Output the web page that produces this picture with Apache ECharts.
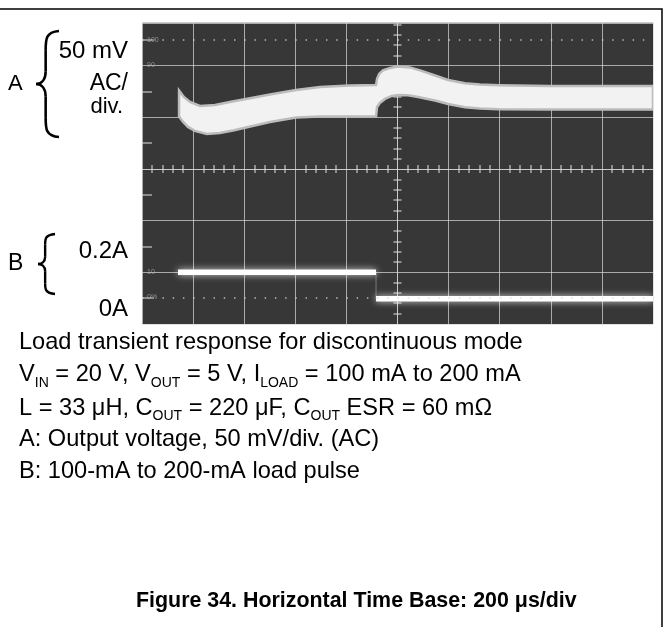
<!DOCTYPE html>
<html>
<head>
<meta charset="utf-8">
<script src="https://cdn.jsdelivr.net/npm/echarts@6/dist/echarts.min.js"></script>
<style>
  html, body { margin: 0; padding: 0; background: #fff; }
  #scope-chart { width: 665px; height: 627px; }
</style>
</head>
<body>
<div id="scope-chart"></div>
<script>
// time axis: 200 us/div, 10 div, zero at the centre of the screen
var timeMin = -1000;
var timeMax = 1000;
var usPerDiv = 200;

// vertical: divisions, centre line = 0
var divMin = -3;
var divMax = 2.83;

// channel A (50 mV/div, AC) - upper and lower edge of the ripple band, mV from centre line
var mvPerDiv = 50;
var aTopTime = [-855, -836, -812, -773, -714, -656, -593, -499, -397, -303, -186, -84,
                -80, -72, -57, -29, 2, 49, 88, 147, 198, 264, 323, 397, 593, 793, 1000];
var aTopMv = [76.0, 69.7, 64.9, 61.0, 62.0, 64.9, 67.8, 72.1, 76.5, 79.4, 80.8, 81.3,
              87.2, 92.0, 95.4, 97.8, 99.2, 98.3, 95.4, 90.5, 86.2, 83.0, 81.8, 81.1, 80.3, 80.3, 80.3];
var aBotTime = [-855, -839, -820, -793, -746, -695, -644, -593, -499, -397, -303, -84,
                -80, -69, -49, -22, 2, 41, 80, 147, 198, 264, 323, 397, 593, 1000];
var aBotMv = [50.8, 45.5, 40.7, 36.8, 33.9, 34.8, 37.3, 40.2, 45.5, 49.9, 50.8, 50.8,
              60.0, 63.9, 67.8, 70.7, 71.6, 71.3, 69.7, 66.3, 62.9, 59.7, 58.5, 57.8, 57.6, 57.6];

// channel B (0.2 A/div), 0 A sits 3 div under the centre line
var maPerDiv = 200;
var bZeroDiv = -3;
var bTime = [-859, -84, -84, 1000];
var bMa = [200, 200, 97, 97];

// rise-time reference lines of the graticule
var refLevels = [2.5, -2.5];

var gridColor = 'rgba(215,215,215,0.72)';
var txtFont = '"Liberation Sans", Arial, sans-serif';

var chartDom = document.getElementById('scope-chart');
var myChart = echarts.init(chartDom);

function bPoint(i) {
  return [bTime[i], bMa[i] / maPerDiv + bZeroDiv];
}
var bFull = bTime.map(function (t, i) { return bPoint(i); });
var bSplit = [bPoint(0), bPoint(1), [bTime[1], '-'], bPoint(2), bPoint(3)];

// curly bracket built from bezier pieces
function brace(x, top, bottom, w, lw) {
  var mid = (top + bottom) / 2;
  var h = bottom - top;
  var sx = x + w * 0.42;
  var st = { fill: 'none', stroke: '#000', lineWidth: lw };
  function curve(x1, y1, c1x, c1y, c2x, c2y, x2, y2) {
    return { type: 'bezierCurve', silent: true, style: st,
      shape: { x1: x1, y1: y1, cpx1: c1x, cpy1: c1y, cpx2: c2x, cpy2: c2y, x2: x2, y2: y2 } };
  }
  function seg(x1, y1, x2, y2) {
    return { type: 'line', silent: true, style: st, shape: { x1: x1, y1: y1, x2: x2, y2: y2 } };
  }
  return {
    type: 'group',
    children: [
      curve(x + w, top, sx, top + 1, sx, top + h * 0.08, sx, top + h * 0.18),
      seg(sx, top + h * 0.18, sx, mid - h * 0.12),
      curve(sx, mid - h * 0.12, sx, mid - h * 0.03, x + w * 0.2, mid, x, mid),
      curve(x, mid, x + w * 0.2, mid, sx, mid + h * 0.03, sx, mid + h * 0.12),
      seg(sx, mid + h * 0.12, sx, bottom - h * 0.18),
      curve(sx, bottom - h * 0.18, sx, bottom - h * 0.08, sx, bottom - 1, x + w, bottom)
    ]
  };
}

function label(text, x, y, size, align, weight) {
  return {
    type: 'text', x: x, y: y, silent: true,
    style: {
      text: text, fill: '#000', fontSize: size, fontFamily: txtFont,
      fontWeight: weight || 'normal', align: align || 'left', verticalAlign: 'middle'
    }
  };
}

var noteSize = 23.6;
var subRich = {
  n: { fontSize: noteSize, fontFamily: txtFont, lineHeight: 30, fill: '#000' },
  s: { fontSize: 14, fontFamily: txtFont, lineHeight: 14, verticalAlign: 'bottom', fill: '#000' }
};
function richLine(text, x, y) {
  return {
    type: 'text', x: x, y: y, silent: true,
    style: { text: text, rich: subRich, verticalAlign: 'middle', align: 'left' }
  };
}

function tinyMark(text, y) {
  return {
    type: 'text', x: 147, y: y, silent: true, z: 10,
    style: { text: text, fill: 'rgba(200,200,200,0.6)', fontSize: 7, fontFamily: txtFont, verticalAlign: 'middle' }
  };
}

var option = {
  animation: false,
  backgroundColor: '#fff',
  grid: {
    show: true,
    left: 142,
    top: 22.8,
    width: 511,
    height: 301.1,
    backgroundColor: '#373737',
    borderWidth: 0
  },
  xAxis: [
    {
      type: 'value', min: timeMin, max: timeMax, interval: usPerDiv, position: 'bottom',
      axisLine: { show: true, onZero: true, lineStyle: { color: gridColor, width: 1 } },
      axisTick: { show: false },
      minorTick: { show: true, splitNumber: 5, length: 4, lineStyle: { color: gridColor, width: 1.5 } },
      axisLabel: { show: false },
      splitLine: { show: true, lineStyle: { color: gridColor, width: 1 } }
    },
    {
      type: 'value', min: timeMin, max: timeMax, interval: usPerDiv, position: 'top',
      axisLine: { show: false, onZero: true },
      axisTick: { show: false },
      minorTick: { show: true, splitNumber: 5, length: 4, lineStyle: { color: gridColor, width: 1.5 } },
      axisLabel: { show: false },
      splitLine: { show: false }
    }
  ],
  yAxis: [
    {
      type: 'value', min: divMin, max: divMax, interval: 1, position: 'left',
      axisLine: { show: false, onZero: false },
      axisTick: { show: false, inside: true },
      minorTick: { show: true, splitNumber: 2, length: 10, lineStyle: { color: gridColor, width: 1.5 } },
      axisLabel: { show: false },
      splitLine: { show: true, lineStyle: { color: gridColor, width: 1 } }
    },
    {
      type: 'value', min: divMin, max: divMax, interval: 1, position: 'left',
      axisLine: { show: true, onZero: true, lineStyle: { color: gridColor, width: 1 } },
      axisTick: { show: false },
      minorTick: { show: true, splitNumber: 5, length: 4, lineStyle: { color: gridColor, width: 1.5 } },
      axisLabel: { show: false },
      splitLine: { show: false }
    },
    {
      type: 'value', min: divMin, max: divMax, interval: 1, position: 'right',
      axisLine: { show: false, onZero: true },
      axisTick: { show: false },
      minorTick: { show: true, splitNumber: 5, length: 4, lineStyle: { color: gridColor, width: 1.5 } },
      axisLabel: { show: false },
      splitLine: { show: false }
    }
  ],
  series: [
    {
      name: 'A band',
      type: 'custom',
      z: 3,
      clip: true,
      data: [[0, 0]],
      renderItem: function (params, api) {
        var pts = [];
        for (var i = 0; i < aTopTime.length; i++) {
          pts.push(api.coord([aTopTime[i], aTopMv[i] / mvPerDiv]));
        }
        for (var j = aBotTime.length - 1; j >= 0; j--) {
          pts.push(api.coord([aBotTime[j], aBotMv[j] / mvPerDiv]));
        }
        return {
          type: 'polygon',
          shape: { points: pts },
          style: { fill: '#f2f2f2', stroke: '#bcbcbc', lineWidth: 2.5 }
        };
      }
    },
    {
      name: 'B edge',
      type: 'line',
      z: 2,
      data: bFull,
      showSymbol: false,
      lineStyle: { color: 'rgba(200,200,200,0.45)', width: 1 },
      markLine: {
        silent: true,
        symbol: 'none',
        label: { show: false },
        lineStyle: { color: 'rgba(215,215,215,0.8)', width: 1.5, type: [1.5, 8.72], dashOffset: 0 },
        data: refLevels.map(function (v) { return { yAxis: v }; })
      }
    },
    {
      name: 'B',
      type: 'line',
      z: 4,
      data: bSplit,
      showSymbol: false,
      connectNulls: false,
      lineStyle: { color: '#ffffff', width: 5.5, shadowColor: 'rgba(255,255,255,0.8)', shadowBlur: 7 }
    }
  ],
  graphic: {
    elements: [
      // frame of the figure
      {
        type: 'rect', silent: true,
        shape: { x: -2, y: 9, width: 664, height: 640 },
        style: { fill: 'none', stroke: '#000', lineWidth: 1.5 }
      },
      tinyMark('100', 40),
      tinyMark('90', 65.5),
      tinyMark('10', 272.5),
      tinyMark('0%', 297),
      // channel A scale label
      label('A', 8, 84.1, 22),
      brace(36, 31, 137, 23, 2.6),
      label('50 mV', 128, 51.0, 24, 'right'),
      label('AC/', 128, 83.7, 23, 'right'),
      label('div.', 123, 107.4, 22, 'right'),
      // channel B scale label
      label('B', 8, 263.7, 23),
      brace(38, 234, 294, 17, 2.4),
      label('0.2A', 128, 251.7, 24, 'right'),
      label('0A', 128, 309.4, 24, 'right'),
      // notes
      label('Load transient response for discontinuous mode', 19, 342.3, noteSize),
      richLine('{n|V}{s|IN}{n| = 20 V, V}{s|OUT}{n| = 5 V, I}{s|LOAD}{n| = 100 mA to 200 mA}', 19, 374.9),
      richLine('{n|L = 33 μH, C}{s|OUT}{n| = 220 μF, C}{s|OUT}{n| ESR = 60 mΩ}', 19, 408),
      label('A: Output voltage, 50 mV/div. (AC)', 19, 439.8, noteSize),
      label('B: 100-mA to 200-mA load pulse', 19, 471.6, noteSize),
      // caption
      label('Figure 34. Horizontal Time Base: 200 μs/div', 136, 601, 21.4, 'left', 'bold')
    ]
  }
};

option && myChart.setOption(option);
</script>
</body>
</html>
